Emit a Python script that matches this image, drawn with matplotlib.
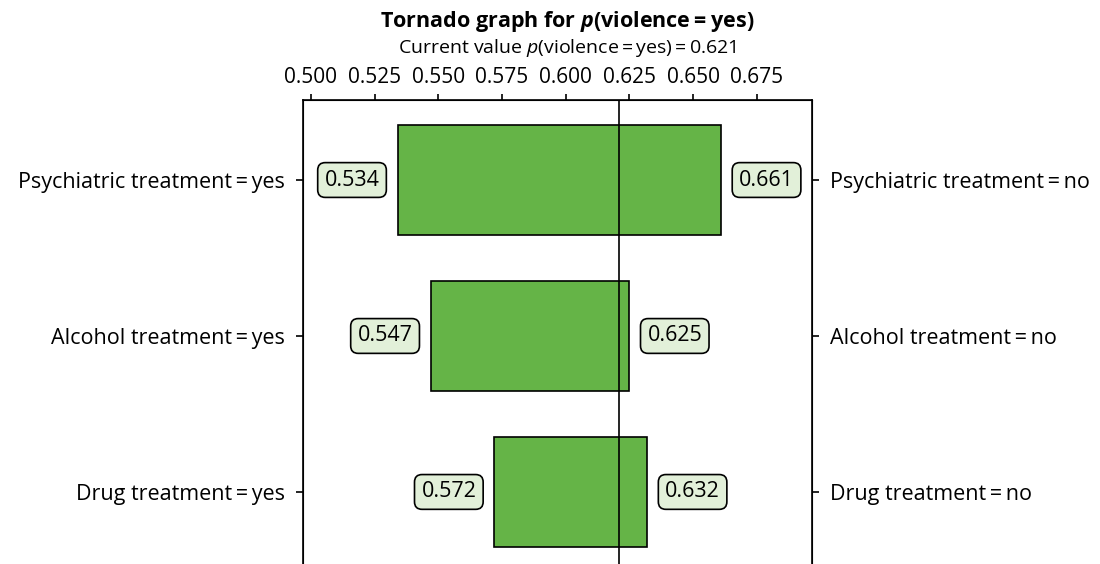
import matplotlib.pyplot as plt

plt.rcParams.update(
    {
        "font.family": ["Open Sans", "DejaVu Sans"],
        "mathtext.fontset": "custom",
        "mathtext.rm": "Open Sans",
        "mathtext.it": "Open Sans:italic",
        "mathtext.bf": "Open Sans:bold",
        "mathtext.bfit": "Open Sans:italic:bold",
    }
)

T = "\u2009=\u2009"
VARIABLES = ["Psychiatric treatment", "Alcohol treatment", "Drug treatment"]
YES_VALUES = [0.534, 0.547, 0.572]
NO_VALUES = [0.661, 0.625, 0.632]
CURRENT = 0.621
XTICKS = [0.500, 0.525, 0.550, 0.575, 0.600, 0.625, 0.650, 0.675]

BAR_COLOR = "#65b447"
BOX_COLOR = "#e2f0d9"

fig = plt.figure(figsize=(11, 5.64), dpi=100)
ax = fig.add_axes([303 / 1100, 0.0, (812 - 303) / 1100, 1 - 100 / 564])

ypos = list(range(len(VARIABLES)))
for y, lo_v, hi_v in zip(ypos, YES_VALUES, NO_VALUES):
    lo, hi = min(lo_v, hi_v), max(lo_v, hi_v)
    ax.barh(y, hi - lo, left=lo, height=0.7, color=BAR_COLOR,
            edgecolor="black", linewidth=1.2, zorder=2)
    box = dict(boxstyle="round,pad=0.32,rounding_size=0.35", fc=BOX_COLOR,
               ec="black", lw=1.2)
    ax.annotate(f"{lo_v:.3f}", (lo, y), xytext=(-13, 0), textcoords="offset points",
                ha="right", va="center", fontsize=15.5, bbox=box)
    ax.annotate(f"{hi_v:.3f}", (hi, y), xytext=(13, 0), textcoords="offset points",
                ha="left", va="center", fontsize=15.5, bbox=box)

ax.axvline(CURRENT, color="black", lw=1.2, zorder=3)

ax.set_xlim(0.4969, 0.6967)
ax.set_ylim(2.462, -0.513)
ax.xaxis.tick_top()
ax.set_xticks(XTICKS)
ax.set_xticklabels([f"{v:.3f}" for v in XTICKS], fontsize=15)
ax.set_yticks(ypos)
ax.set_yticklabels([f"{v}{T}yes" for v in VARIABLES], fontsize=15.5)
ax.tick_params(axis="x", length=4.5, width=1.2, pad=4)
ax.tick_params(axis="y", length=5, width=1.2, pad=8)
ax.spines["bottom"].set_visible(False)
for s in ["top", "left", "right"]:
    ax.spines[s].set_linewidth(1.2)

ax2 = ax.twinx()
ax2.set_ylim(ax.get_ylim())
ax2.set_yticks(ypos)
ax2.set_yticklabels([f"{v}{T}no" for v in VARIABLES], fontsize=15.5)
ax2.tick_params(axis="y", length=5, width=1.2, pad=8)
ax2.spines["bottom"].set_visible(False)

fig.text(0.5155, 1 - 22 / 564, r"Tornado graph for $\mathbfit{p}$(violence" + T + "yes)",
         ha="center", va="center", fontsize=15.5, fontweight="bold")
fig.text(0.5155, 1 - 48 / 564, r"Current value $p$(violence" + T + "yes)" + T + f"{CURRENT:.3f}",
         ha="center", va="center", fontsize=14)

fig.savefig("out.png", dpi=100)
